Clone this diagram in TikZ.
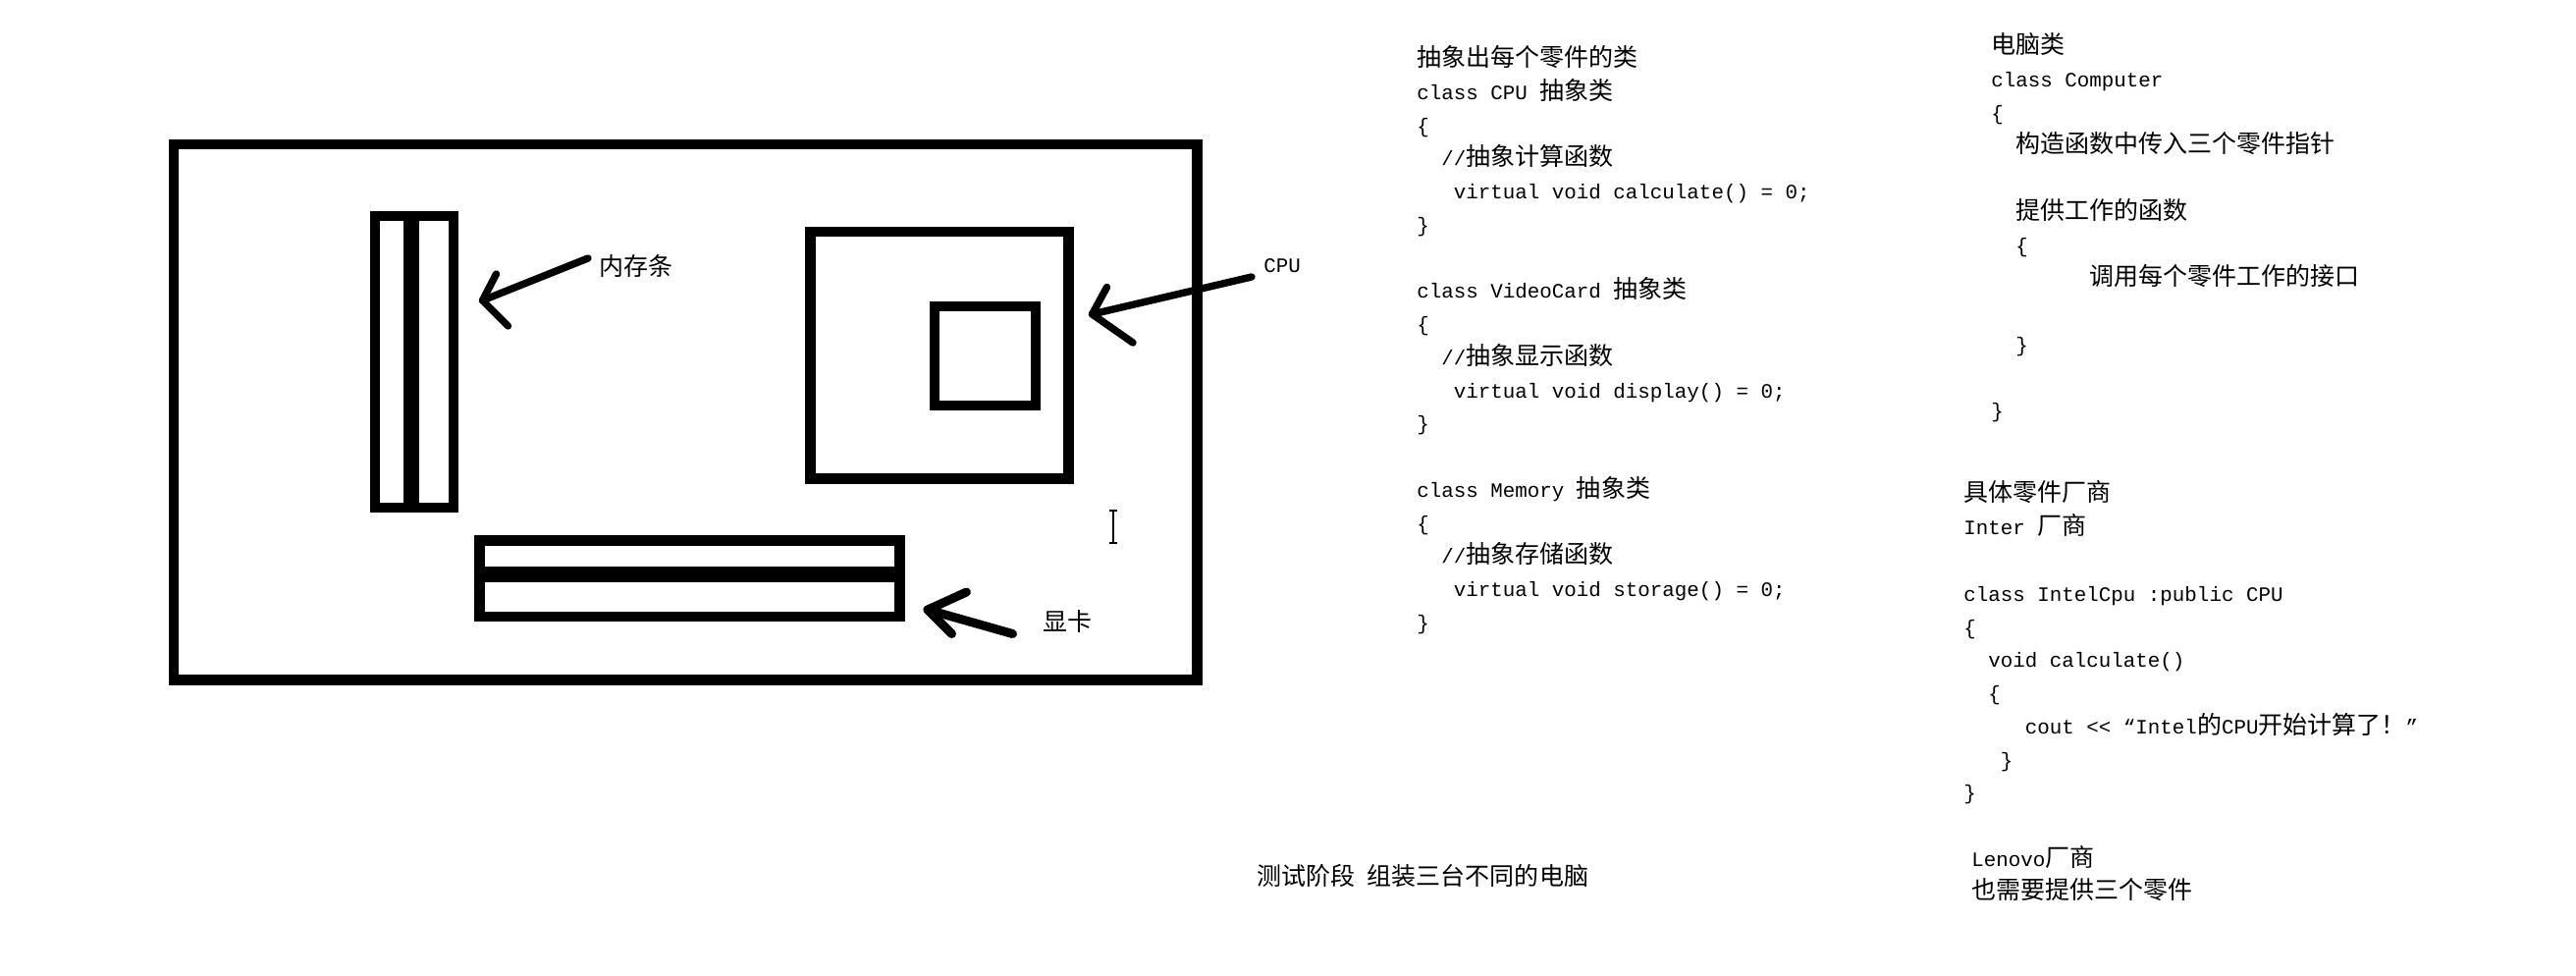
\documentclass[tikz,border=0pt]{standalone}
\usepackage{fontspec}
\setmainfont{Liberation Mono}[Ligatures=TeXOff]
\newfontfamily\cjk[Scale=1.2]{Noto Sans CJK SC}
\newcommand{\zh}[1]{{\cjk #1}}
\newlength{\chw}\setlength{\chw}{6.25pt}
\newcommand{\ind}[1]{\hspace*{#1\chw}}
\usetikzlibrary{positioning}
\usetikzlibrary{calc}

\begin{document}
\begin{tikzpicture}[x=0.5pt,y=-0.5pt,font=\fontsize{10.42}{16.88}\selectfont]
	\tikzstyle{code}=[inner sep=0pt,anchor=base west,align=left]
	\tikzstyle{tag}=[inner sep=0pt,anchor=base west]
	\tikzstyle{board}=[line width=5.35pt]
	\tikzstyle{slot}=[line width=5pt]
	\tikzstyle{pen}=[line width=3.7pt,line cap=round,line join=round]
	
	\fill[white] (0,0) rectangle (2624,994);
	\useasboundingbox (0,0) rectangle (2624,994);
	
	% motherboard
	\draw[board] (177,147) rectangle (1219.7,692.5);
	% memory slot
	\draw[slot] (382,220) rectangle (462,517);
	\draw[line width=8pt] (418.7,220) -- (418.7,517);
	% cpu socket and chip
	\draw[board] (825.3,236) rectangle (1088.7,487.2);
	\draw[slot] (951.7,311.7) rectangle (1055,413);
	% video card slot
	\draw[board] (488.7,550.3) rectangle (916.3,628);
	\draw[line width=8.3pt] (488.7,585) -- (916.3,585);
	% cursor
	\draw[line width=0.6pt] (1134,520) -- (1134,553) (1130,520) -- (1138,520) (1130,553) -- (1138,553);
	
	\node[tag] (mem) at (610,281) {\zh{内存条}};
	\node[tag] (cpu) at (1287,278) {CPU};
	\node[tag] (vga) at (1062,642.8) {\zh{显卡}};
	
	\coordinate (memtip) at (491.5,306);
	\coordinate (memend) at (599,263);
	\coordinate (cputip) at (1112.5,320);
	\coordinate (cpuend) at (1275,282);
	\coordinate (vgatip) at (945,621);
	\coordinate (vgaend) at (1031.5,645.5);
	
	\draw[pen] (memend) -- (memtip);
	\draw[pen] ($(memtip)+(14,-27)$) -- (memtip) -- ($(memtip)+(26,26)$);
	\draw[pen] (cpuend) -- (cputip);
	\draw[pen] ($(cputip)+(15,-27.5)$) -- (cputip) -- ($(cputip)+(41.5,29)$);
	\draw[pen,line width=4.5pt] (vgaend) -- (vgatip);
	\draw[pen,line width=4.5pt] ($(vgatip)+(39.5,-18)$) -- (vgatip) -- ($(vgatip)+(24.5,24.5)$);
	
	% base of a block = baseline of its last line
	\node[code] (abs) at (1443,641.4) {%
		\zh{抽象出每个零件的类}\\
		class CPU \zh{抽象类}\\
		\{\\
		\ind{2}//\zh{抽象计算函数}\\
		\ind{3}virtual void calculate() = 0;\\
		\}\\
		\\
		class VideoCard \zh{抽象类}\\
		\{\\
		\ind{2}//\zh{抽象显示函数}\\
		\ind{3}virtual void display() = 0;\\
		\}\\
		\\
		class Memory \zh{抽象类}\\
		\{\\
		\ind{2}//\zh{抽象存储函数}\\
		\ind{3}virtual void storage() = 0;\\
		\}};
	
	\node[code] (comp) at (2028,425.9) {%
		\zh{电脑类}\\
		class Computer\\
		\{\\
		\ind{2}\zh{构造函数中传入三个零件指针}\\
		\\
		\ind{2}\zh{提供工作的函数}\\
		\ind{2}\{\\
		\ind{8}\zh{调用每个零件工作的接口}\\
		\\
		\ind{2}\}\\
		\\
		\}};
	
	\node[code] (intel) at (2000,814.8) {%
		\zh{具体零件厂商}\\
		Inter \zh{厂商}\\
		\\
		class IntelCpu :public CPU\\
		\{\\
		\ind{2}void calculate()\\
		\ind{2}\{\\
		\ind{5}cout << “Intel\zh{的}CPU\zh{开始计算了！}”\\
		\ind{3}\}\\
		\}};
	
	\node[code] (lenovo) at (2008,915.8) {%
		Lenovo\zh{厂商}\\
		\zh{也需要提供三个零件}};
	
	\node[tag] (test) at (1280,901) {\zh{测试阶段}\ \zh{组装三台不同的电脑}};
\end{tikzpicture}
\end{document}
